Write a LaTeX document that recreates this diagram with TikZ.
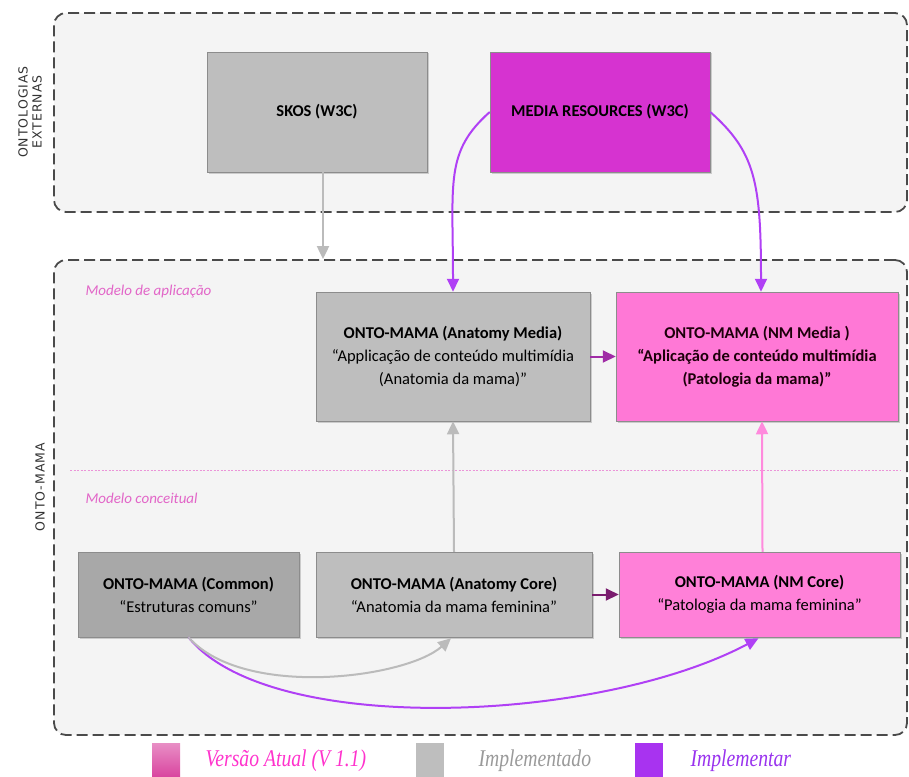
\documentclass[tikz,border=0pt]{standalone}
\usepackage{fontspec}
\setmainfont{Carlito}
\newfontfamily\legendfont{Liberation Serif}
\newfontfamily\sidefont[LetterSpace=8]{DejaVu Sans}
\usetikzlibrary{arrows.meta,shadows,calc}

\definecolor{framegray}{HTML}{4A4A4A}
\definecolor{panelfill}{HTML}{F4F4F4}
\definecolor{implgray}{HTML}{BEBEBE}
\definecolor{commongray}{HTML}{A8A8A8}
\definecolor{mediamag}{HTML}{D633D0}
\definecolor{nmpink}{HTML}{FF78D6}
\definecolor{nmpinkb}{HTML}{FF80D8}
\definecolor{violet}{HTML}{B040F5}
\definecolor{plum}{HTML}{A02CA6}
\definecolor{darkplum}{HTML}{7A1C6E}
\definecolor{uppink}{HTML}{FF8ADD}
\definecolor{arrowgray}{HTML}{BBBBBB}
\definecolor{labelpink}{HTML}{E266C8}
\definecolor{legpink}{HTML}{D9449F}
\definecolor{legpinktext}{HTML}{FF33CC}
\definecolor{leggraytext}{HTML}{9A9A9A}
\definecolor{legviolet}{HTML}{A833F0}
\definecolor{legviolettext}{HTML}{9933EE}

\tikzset{
  panel/.style={draw=framegray, line width=1.8pt, dash pattern=on 11pt off 5pt,
    rounded corners=12pt, fill=panelfill},
  onto/.style={draw=black!45, line width=0.5pt, align=center, inner sep=2pt,
    font=\fontsize{16.5}{23}\selectfont,
    drop shadow={shadow xshift=1.5pt, shadow yshift=-1.5pt, opacity=0.35}},
  sidelabel/.style={rotate=90, align=center, text=black!80,
    font=\sidefont\fontsize{12.5}{14}\selectfont},
  layerlabel/.style={anchor=west, text=labelpink, font=\itshape\fontsize{15}{17}\selectfont},
  link/.style={line width=2pt, -{Triangle[length=13pt,width=12pt]}},
  curvelink/.style={line width=2pt, -{Triangle[length=13pt,width=12pt]}},
  legbox/.style={minimum width=28pt, minimum height=34pt, inner sep=0pt},
  legtext/.style={anchor=west, font=\legendfont\itshape\fontsize{24}{26}\selectfont}
}

\begin{document}
\begin{tikzpicture}[x=1pt,y=-1pt]
\useasboundingbox (0,0) rectangle (909,776);

% dashed panels
\node[panel, minimum width=853pt, minimum height=199pt] (ext) at (480.5,112.5) {};
\node[panel, minimum width=853pt, minimum height=475pt] (core) at (480.5,497.5) {};

% panel side labels
\node[sidelabel] (extlabel) at (30,112) {ONTOLOGIAS\\EXTERNAS};
\node[sidelabel] (corelabel) at (40,487) {ONTO-MAMA};

% layer separator and captions
\coordinate (sepL) at (70,470);
\coordinate (sepR) at (900,470);
\draw[labelpink!70, line width=0.6pt, dash pattern=on 2pt off 1.5pt] (sepL) -- (sepR);
\node[layerlabel] (app) at (82,292) {Modelo de aplicação};
\node[layerlabel] (conc) at (82,498) {Modelo conceitual};

% external ontologies
\node[onto, fill=implgray, minimum width=220pt, minimum height=120pt] (skos) at (317,112)
  {\textbf{SKOS (W3C)}};
\node[onto, fill=mediamag, minimum width=220pt, minimum height=120pt] (mr) at (600,112)
  {\textbf{MEDIA RESOURCES (W3C)}};

% application layer
\node[onto, fill=implgray, minimum width=274pt, minimum height=129pt] (am) at (453,356.5)
  {\textbf{ONTO-MAMA (Anatomy Media)}\\``Applicação de conteúdo multimídia\\(Anatomia da mama)''};
\node[onto, fill=nmpink, minimum width=282pt, minimum height=129pt, text=black!85!purple] (nmm) at (757,356.5)
  {\textbf{ONTO-MAMA (NM Media )}\\\textbf{``Aplicação de conteúdo multimídia}\\\textbf{(Patologia da mama)''}};

% conceptual layer
\node[onto, fill=commongray, minimum width=221pt, minimum height=85pt] (com) at (188.5,594.5)
  {\textbf{ONTO-MAMA (Common)}\\``Estruturas comuns''};
\node[onto, fill=implgray, minimum width=276pt, minimum height=85pt] (ac) at (454,594.5)
  {\textbf{ONTO-MAMA (Anatomy Core)}\\``Anatomia da mama feminina''};
\node[onto, fill=nmpinkb, minimum width=281pt, minimum height=85pt] (nmc) at (759.5,594.5)
  {\textbf{ONTO-MAMA (NM Core)}\\``Patologia da mama feminina''};

% connectors
\coordinate (skosEnd) at ($(skos.south |- core.north)+(6,0)$);
\draw[link, arrowgray] ($(skos.south)+(6,0)$) -- (skosEnd);
\draw[curvelink, violet] (mr.west) .. controls +(-45,40) and +(0,-110) .. (am.north);
\draw[curvelink, violet] (mr.east) .. controls +(45,40) and +(0,-110) .. ($(nmm.north)+(4,0)$);
\draw[link, plum] (am.east) -- (nmm.west);
\draw[link, arrowgray] (ac.north) -- (am.south);
\draw[link, uppink] ($(nmc.north)+(3,0)$) -- ($(nmm.south)+(5,0)$);
\draw[link, darkplum] (ac.east) -- (nmc.west);
\draw[curvelink, violet] (com.south) .. controls +(80,100) and +(-160,85) .. ($(nmc.south)+(-1,1)$);
\draw[curvelink, arrowgray] (com.south) .. controls +(55,62) and +(-45,40) .. ($(ac.south)+(-3,1)$);

% legend
\node[legbox, top color=legpink!60, bottom color=legpink] (l1) at (166,760) {};
\node[legtext, text=legpinktext] (t1) at (202,761) {\scalebox{0.82}[1]{Versão Atual (V 1.1)}};
\node[legbox, fill=implgray] (l2) at (430,760) {};
\node[legtext, text=leggraytext] (t2) at (475,761) {\scalebox{0.82}[1]{Implementado}};
\node[legbox, fill=legviolet] (l3) at (649,760) {};
\node[legtext, text=legviolettext] (t3) at (687,761) {\scalebox{0.82}[1]{Implementar}};
\end{tikzpicture}
\end{document}
